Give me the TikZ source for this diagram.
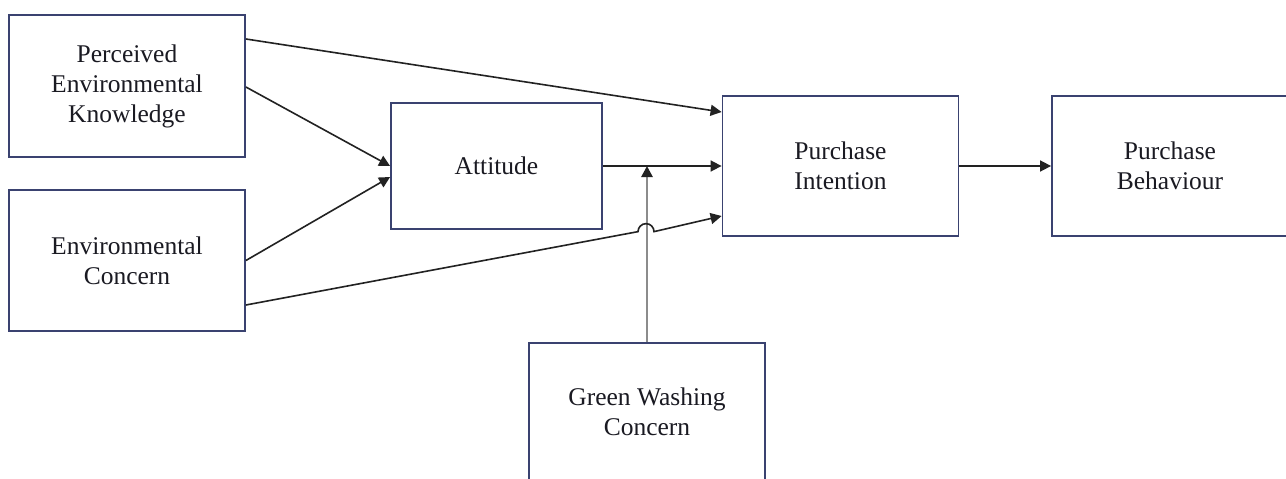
\documentclass[tikz,border=0pt]{standalone}
\usepackage{fontspec}
\setmainfont{Liberation Serif}
\usetikzlibrary{arrows.meta,calc}
\definecolor{boxc}{HTML}{3A4270}
\definecolor{linec}{HTML}{222222}
\definecolor{txtc}{HTML}{1A1A22}
\begin{document}
\begin{tikzpicture}[x=1pt,y=-1pt,
  box/.style={draw=boxc,line width=1.8pt,fill=white,inner sep=0pt,align=center,
    text=txtc,font=\fontsize{25.5}{30}\selectfont},
  conn/.style={draw=linec,line width=1.6pt,-{Triangle[length=11pt,width=11pt]}},
  gconn/.style={draw=gray!90,line width=2.6pt,-{Triangle[length=11pt,width=11pt,color=linec]}}]
\useasboundingbox (0,0) rectangle (1286,479);
\clip (0,0) rectangle (1286,479);
\fill[white] (0,0) rectangle (1286,479);

\node[box,minimum width=236pt,minimum height=142pt] (pek) at (127,86) {Perceived\\Environmental\\Knowledge};
\node[box,minimum width=236pt,minimum height=141pt] (ec) at (127,260.5) {Environmental\\Concern};
\node[box,minimum width=211pt,minimum height=126pt] (att) at (496.5,166) {Attitude};
\node[box,minimum width=236pt,minimum height=140pt] (pi) at (840.5,166) {Purchase\\Intention};
\node[box,minimum width=236pt,minimum height=140pt] (pb) at (1170,166) {Purchase\\Behaviour};
\node[box,minimum width=236pt,minimum height=138pt] (gw) at (647,412) {Green Washing\\Concern};

\coordinate (pekA) at ([yshift=47pt]pek.east);
\coordinate (pekB) at ([yshift=-1pt]pek.east);
\coordinate (ecA) at (ec.east);
\coordinate (ecB) at ([yshift=-44.5pt]ec.east);
\coordinate (attA) at (att.west);
\coordinate (attB) at ([yshift=-11pt]att.west);
\coordinate (piA) at ([yshift=54pt]pi.west);
\coordinate (piB) at ([yshift=-50pt]pi.west);
\coordinate (hopL) at ($(ecB)!0.8243!(piB)$);
\coordinate (join) at (att.east -| gw.north);

\draw[gconn] (gw.north) -- (join);
\draw[conn] (pekA) -- (piA);
\draw[conn] (pekB) -- (attA);
\draw[conn] (ecA) -- (attB);
\draw[conn] (ecB) -- (hopL) arc[start angle=180,end angle=0,radius=8pt] -- (piB);
\draw[conn] (att.east) -- (att.east -| pi.west);
\draw[conn] (pi.east) -- (pb.west);
\end{tikzpicture}
\end{document}
